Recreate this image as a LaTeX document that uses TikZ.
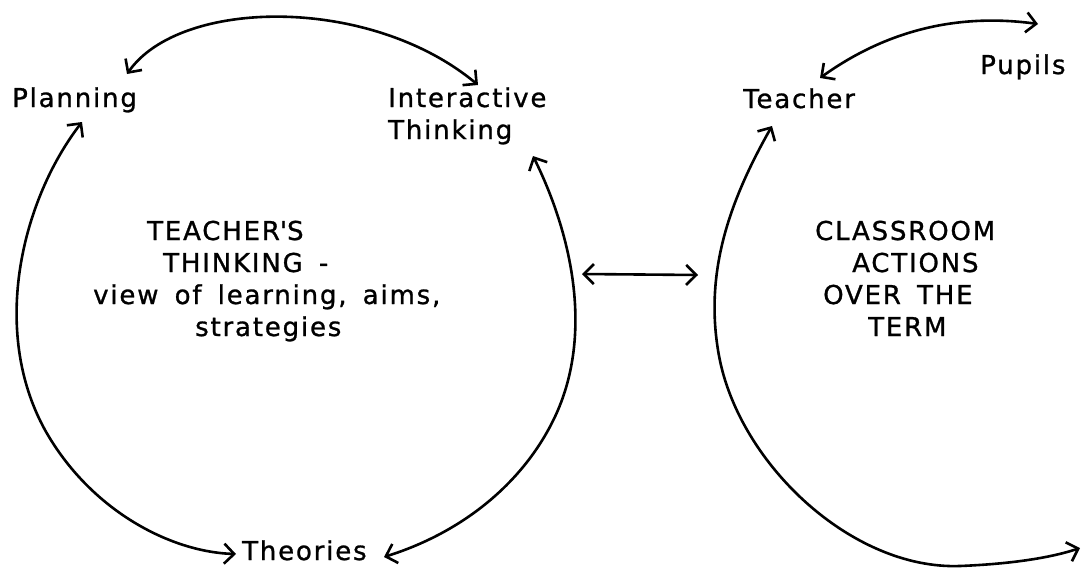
\documentclass[tikz,border=0pt]{standalone}
\usepackage{fontspec}
\setmainfont[LetterSpace=7,WordSpace=1.6,FakeBold=1]{DejaVu Sans}
\usetikzlibrary{arrows.meta}
\begin{document}
\begin{tikzpicture}[x=1pt,y=-1pt,
  lbl/.style={font=\fontsize{26}{30}\selectfont, inner sep=0pt, anchor=base west},
  conn/.style={line width=2.6pt, line cap=round, line join=round},
  barb/.tip={Straight Barb[length=10pt,width=20pt,line width=2.6pt]},
  both/.style={conn,{barb}-{barb}}]
\useasboundingbox (0,0) rectangle (1084,573);
% labels
\node[lbl] (plan) at (12,107) {Planning};
\node[lbl] (inter) at (388,107) {Interactive};
\node[lbl] (think) at (388,139) {Thinking};
\node[lbl] (teach) at (743,108) {Teacher};
\node[lbl] (pup) at (980,74) {Pupils};
\node[lbl] (theo) at (242,560) {Theories};
\node[lbl] (t1) at (147,240) {TEACHER\textquotesingle S};
\node[lbl] (t2) at (163,272) {THINKING -};
\node[lbl] (t3) at (93,304) {view of learning, aims,};
\node[lbl] (t4) at (195,336) {strategies};
\node[lbl] (c1) at (815,240) {CLASSROOM};
\node[lbl] (c2) at (852,272) {ACTIONS};
\node[lbl] (c3) at (823,304) {OVER THE};
\node[lbl] (c4) at (868,336) {TERM};
% connector ends
\coordinate (pa) at (127,74);
\coordinate (ia) at (478,85);
\coordinate (pb) at (82,122);
\coordinate (tha) at (236,554);
\coordinate (ib) at (533,156);
\coordinate (thb) at (384,557);
\coordinate (ma) at (582,274);
\coordinate (mb) at (698,275);
\coordinate (ta) at (772,126);
\coordinate (re) at (1080,548);
\coordinate (tb) at (820,78);
\coordinate (pu) at (1038,24);
% connectors
\draw[both] (pa) .. controls (180,-2) and (370,-5) .. (ia);
\draw[both] (pb) .. controls (22,200) and (-10,330) .. (45,430)
   .. controls (90,510) and (170,552) .. (tha);
\draw[both] (ib) .. controls (572,235) and (592,330) .. (558,410)
   .. controls (530,475) and (470,530) .. (thb);
\draw[both] (ma) -- (mb);
\draw[both] (ta) .. controls (730,200) and (705,270) .. (718,350)
   .. controls (735,460) and (850,570) .. (960,566)
   .. controls (1010,564) and (1050,558) .. (re);
\draw[both] (tb) .. controls (880,35) and (950,12) .. (pu);
\end{tikzpicture}
\end{document}
